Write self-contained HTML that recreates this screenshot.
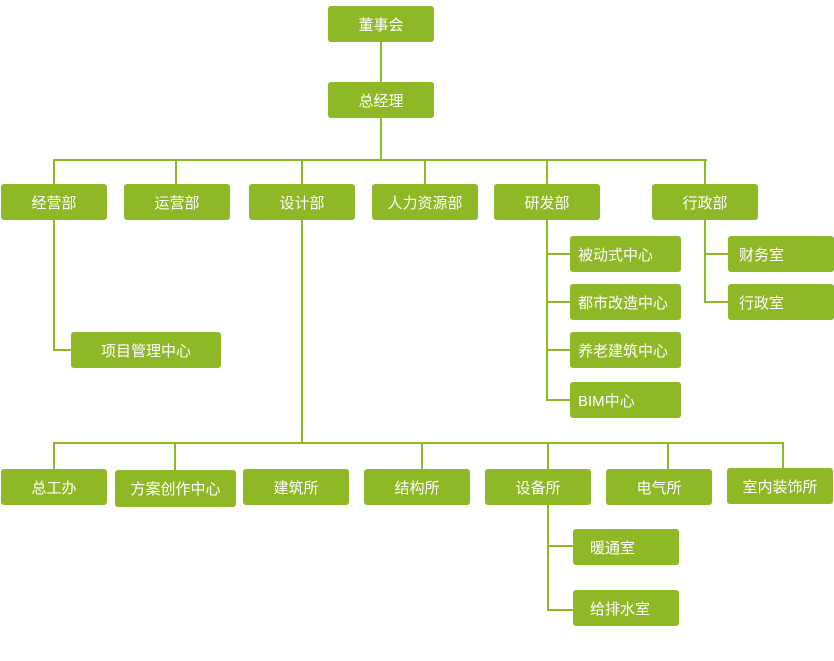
<!DOCTYPE html>
<html><head><meta charset="utf-8"><style>
body{margin:0;width:834px;height:661px;background:#fff;position:relative;overflow:hidden;font-family:"Liberation Sans","Noto Sans CJK SC",sans-serif}
.b{position:absolute;background:#8fb827;color:#fff;border-radius:3px;font-size:15px;display:flex;align-items:center;justify-content:center;box-sizing:border-box}
.l{justify-content:flex-start;padding-left:8px}
.h,.v{position:absolute;background:#8fb827}
.h{height:2px}.v{width:2px}
</style></head><body>
<div class="v" style="left:380px;top:42px;height:119px"></div>
<div class="h" style="left:53px;top:159px;width:654px"></div>
<div class="v" style="left:53px;top:159px;height:192px"></div>
<div class="h" style="left:53px;top:349px;width:20px"></div>
<div class="v" style="left:175px;top:159px;height:26px"></div>
<div class="v" style="left:301px;top:159px;height:285px"></div>
<div class="v" style="left:424px;top:159px;height:26px"></div>
<div class="v" style="left:546px;top:159px;height:242px"></div>
<div class="v" style="left:704px;top:159px;height:144px"></div>
<div class="h" style="left:546px;top:253px;width:25px"></div>
<div class="h" style="left:546px;top:301px;width:25px"></div>
<div class="h" style="left:546px;top:349px;width:25px"></div>
<div class="h" style="left:546px;top:399px;width:25px"></div>
<div class="h" style="left:704px;top:253px;width:25px"></div>
<div class="h" style="left:704px;top:301px;width:25px"></div>
<div class="h" style="left:53px;top:442px;width:731px"></div>
<div class="v" style="left:53px;top:442px;height:28px"></div>
<div class="v" style="left:174px;top:442px;height:28px"></div>
<div class="v" style="left:421px;top:442px;height:28px"></div>
<div class="v" style="left:547px;top:442px;height:168px"></div>
<div class="v" style="left:667px;top:442px;height:28px"></div>
<div class="v" style="left:782px;top:442px;height:28px"></div>
<div class="h" style="left:547px;top:545px;width:27px"></div>
<div class="h" style="left:547px;top:609px;width:27px"></div>

<div class="b" style="left:328px;top:6px;width:106px;height:36px">董事会</div>
<div class="b" style="left:328px;top:82px;width:106px;height:36px">总经理</div>
<div class="b" style="left:1px;top:184px;width:106px;height:36px">经营部</div>
<div class="b" style="left:124px;top:184px;width:106px;height:36px">运营部</div>
<div class="b" style="left:249px;top:184px;width:106px;height:36px">设计部</div>
<div class="b" style="left:372px;top:184px;width:106px;height:36px">人力资源部</div>
<div class="b" style="left:494px;top:184px;width:106px;height:36px">研发部</div>
<div class="b" style="left:652px;top:184px;width:106px;height:36px">行政部</div>
<div class="b l" style="left:570px;top:236px;width:111px;height:36px">被动式中心</div>
<div class="b l" style="left:570px;top:284px;width:111px;height:36px">都市改造中心</div>
<div class="b l" style="left:570px;top:332px;width:111px;height:36px">养老建筑中心</div>
<div class="b l" style="left:570px;top:382px;width:111px;height:36px">BIM中心</div>
<div class="b l" style="left:728px;top:236px;width:106px;height:36px;padding-left:11px">财务室</div>
<div class="b l" style="left:728px;top:284px;width:106px;height:36px;padding-left:11px">行政室</div>
<div class="b" style="left:71px;top:332px;width:150px;height:36px">项目管理中心</div>
<div class="b" style="left:1px;top:469px;width:106px;height:36px">总工办</div>
<div class="b" style="left:115px;top:470px;width:121px;height:37px">方案创作中心</div>
<div class="b" style="left:243px;top:469px;width:106px;height:36px">建筑所</div>
<div class="b" style="left:364px;top:469px;width:106px;height:36px">结构所</div>
<div class="b" style="left:485px;top:469px;width:106px;height:36px">设备所</div>
<div class="b" style="left:606px;top:469px;width:106px;height:36px">电气所</div>
<div class="b" style="left:727px;top:468px;width:106px;height:36px">室内装饰所</div>
<div class="b l" style="left:573px;top:529px;width:106px;height:36px;padding-left:17px">暖通室</div>
<div class="b l" style="left:573px;top:590px;width:106px;height:36px;padding-left:17px">给排水室</div>
</body></html>
